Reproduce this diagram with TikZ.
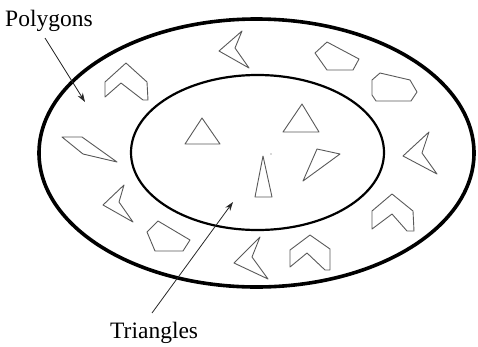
\documentclass[tikz,border=0pt]{standalone}
\usepackage{fontspec}
\setmainfont{Liberation Serif}
\usetikzlibrary{arrows.meta}
\tikzset{
  shp/.style={draw=black!65, line width=0.9pt, line join=round},
  lbl/.style={inner sep=0pt, anchor=base west, font=\fontsize{23.5}{28}\selectfont},
  ptr/.style={draw=black!85, line width=0.8pt, -{Stealth[length=9pt,width=6pt]}},
}
\begin{document}
\begin{tikzpicture}[x=1pt,y=-1pt]
\useasboundingbox (0,0) rectangle (478,346);
% ellipses
\draw[line width=3.6pt] (256.5,153) ellipse [x radius=217.5, y radius=134];
\draw[line width=2.2pt] (257.5,152.5) ellipse [x radius=126.5, y radius=77.5];
% labels
\node[lbl] (poly) at (5,26) {Polygons};
\node[lbl] (tri) at (110,338) {Triangles};
\coordinate (polyS) at (45,38);
\coordinate (polyT) at (85,102);
\coordinate (triS) at (152,313);
\coordinate (triT) at (233,202);
\draw[ptr] (polyS) -- (polyT);
\draw[ptr] (triS) -- (triT);
% outer ring shapes
% chevron top-left
\draw[shp] (105,97) -- (105,82) -- (126,63) -- (147,82) -- (148,100) -- (143,100) -- (121,83) -- cycle;
% parallelogram
\draw[shp] (62,137) -- (82,137) -- (117,162) -- (83,154) -- cycle;
% boomerang top
\draw[shp] (242,31) -- (219,51) -- (249,68) -- (235,48) -- cycle;
% pentagon 1
\draw[shp] (315,53) -- (327,42) -- (359,59) -- (353,70) -- (327,70) -- cycle;
% pentagon 2
\draw[shp] (372,80) -- (380,73) -- (410,80) -- (417,92) -- (411,101) -- (376,101) -- (372,95) -- cycle;
% boomerang right
\draw[shp] (429,132) -- (403,156) -- (437,174) -- (422,153) -- cycle;
% chevron right
\draw[shp] (372,229) -- (372,211) -- (392,194) -- (413,211) -- (414,231) -- (407,231) -- (392,214) -- cycle;
% chevron bottom middle
\draw[shp] (290,267) -- (290,250) -- (310,235) -- (330,249) -- (330,270) -- (325,270) -- (307,253) -- cycle;
% boomerang bottom middle
\draw[shp] (260,237) -- (234,263) -- (268,279) -- (252,257) -- cycle;
% pentagon bottom-left
\draw[shp] (147,232) -- (158,221) -- (190,240) -- (183,251) -- (155,251) -- cycle;
% boomerang left
\draw[shp] (124,185) -- (103,205) -- (133,222) -- (119,202) -- cycle;
% inner triangles
\draw[shp] (185,144) -- (202,118) -- (220,144) -- cycle;
\draw[shp] (283,132) -- (302,104) -- (319,132) -- cycle;
\draw[shp] (263,156) -- (255,197) -- (272,197) -- cycle;
\draw[shp] (317,149) -- (340,154) -- (303,181) -- cycle;
\fill[black!65] (271,154) circle (0.7);
\end{tikzpicture}
\end{document}
